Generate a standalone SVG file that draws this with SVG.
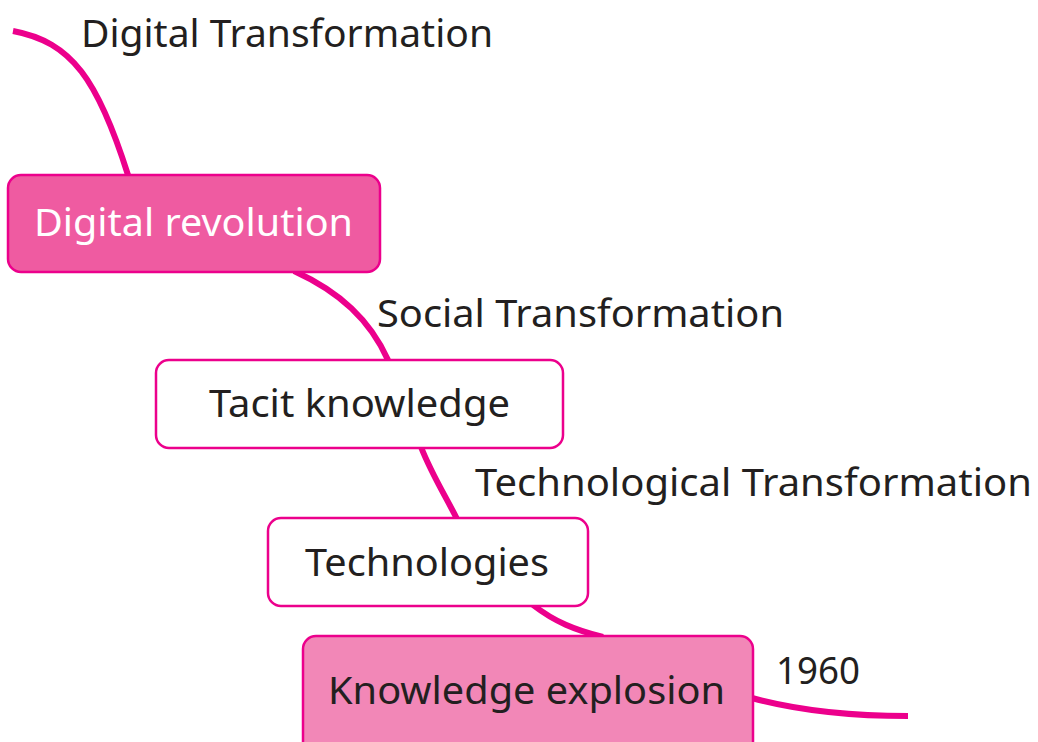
<svg xmlns="http://www.w3.org/2000/svg" width="1038" height="742" viewBox="0 0 1038 742">
<style>
.c{fill:none;stroke:#EC008C;stroke-width:6;stroke-linecap:butt}
.b{stroke:#EC008C;stroke-width:2.5}
.t{font-family:"Noto Sans","Open Sans",sans-serif;font-size:39px;fill:#231F20}
.m{text-anchor:middle}
</style>
<rect width="1038" height="742" fill="#FFFFFF"/>
<g id="connectors">
<path class="c" d="M13,31 C72,42 98,80 128,175"/>
<path class="c" d="M294,271 C340,292 370,320 388,360"/>
<path class="c" d="M421,447 C432,475 445,495 457,519"/>
<path class="c" d="M533,605 C555,622 575,630 603,637"/>
<path class="c" d="M752,698 C800,711 850,716 908,716"/>
</g>
<g id="labels">
<text class="t" x="81" y="47" textLength="412" lengthAdjust="spacingAndGlyphs">Digital Transformation</text>
<text class="t" x="377" y="327" textLength="407" lengthAdjust="spacingAndGlyphs">Social Transformation</text>
<text class="t" x="475" y="496" textLength="557" lengthAdjust="spacingAndGlyphs">Technological Transformation</text>
<text class="t" x="776" y="684" textLength="84" lengthAdjust="spacingAndGlyphs">1960</text>
</g>
<g id="node-digital-revolution">
<rect class="b" x="8" y="175" width="372" height="97" rx="13" fill="#EF5BA1"/>
<text class="t" x="34" y="236" textLength="319" lengthAdjust="spacingAndGlyphs" style="fill:#FFFFFF">Digital revolution</text>
</g>
<g id="node-tacit-knowledge">
<rect class="b" x="156" y="360" width="407" height="88" rx="13" fill="#FFFFFF"/>
<text class="t" x="209" y="417" textLength="301" lengthAdjust="spacingAndGlyphs">Tacit knowledge</text>
</g>
<g id="node-technologies">
<rect class="b" x="268" y="518" width="320" height="88" rx="13" fill="#FFFFFF"/>
<text class="t" x="305" y="576" textLength="244" lengthAdjust="spacingAndGlyphs">Technologies</text>
</g>
<g id="node-knowledge-explosion">
<rect class="b" x="303" y="636" width="450" height="120" rx="13" fill="#F287B7"/>
<text class="t" x="328" y="704" textLength="397" lengthAdjust="spacingAndGlyphs">Knowledge explosion</text>
</g>
</svg>
